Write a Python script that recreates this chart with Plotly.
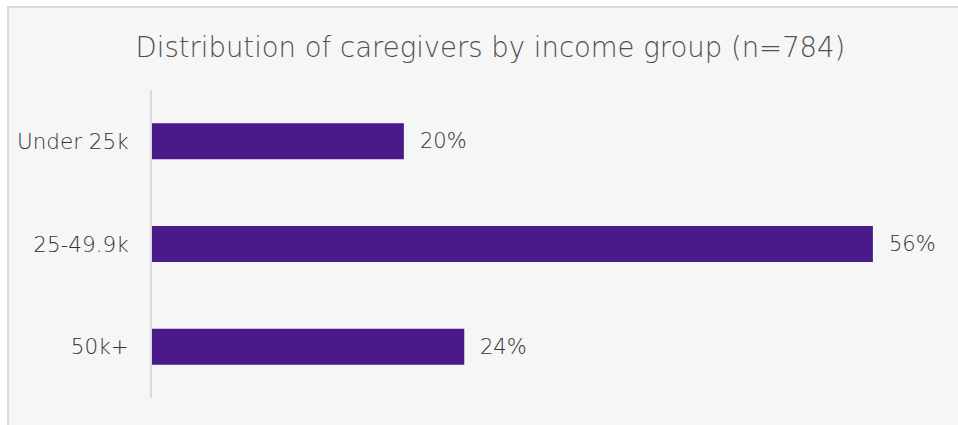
import plotly.graph_objects as go

categories = ["Under 25k", "25-49.9k", "50k+"]
shares = [0.196, 0.561, 0.243]
title_text = "Distribution of caregivers by income group (n=784)"

W, H = 958, 425
ML, MR, MT, MB = 152, 35, 90, 27
PW, PH = W - ML - MR, H - MT - MB


def px_x(p):
    return (p - ML) / PW


def px_y(p):
    return (H - MB - p) / PH


FONT = "'DejaVu Sans', sans-serif"
BAR = "#4a1a8a"
TXT = "#404040"

fig = go.Figure(
    go.Bar(
        x=shares,
        y=categories,
        orientation="h",
        marker=dict(color=BAR, line=dict(width=0)),
        width=0.35,
        hoverinfo="skip",
    )
)

for c, v in zip(categories, shares):
    fig.add_annotation(
        x=v, y=c, xref="x", yref="y",
        text=f"{v:.0%}", showarrow=False,
        xanchor="left", xshift=14,
        font=dict(family=FONT, size=21, weight=200, color="#333333"),
    )

fig.add_shape(
    type="rect", xref="paper", yref="paper",
    x0=px_x(8), x1=px_x(W + 10), y0=px_y(H + 10), y1=px_y(7),
    fillcolor="#f6f6f6", line=dict(color="#d9d9d9", width=2),
    layer="below",
)

fig.update_layout(
    width=W, height=H,
    margin=dict(l=ML, r=MR, t=MT, b=MB),
    paper_bgcolor="white",
    plot_bgcolor="rgba(0,0,0,0)",
    showlegend=False,
    title=dict(
        text=title_text, x=0.512, xanchor="center",
        y=1 - 47 / H, yanchor="middle", yref="container",
        font=dict(family=FONT, size=27.5, weight=200, color="#505050"),
    ),
    xaxis=dict(range=[0, 0.6], visible=False, fixedrange=True),
    yaxis=dict(
        autorange="reversed",
        showline=True, linecolor="#d9d9d9", linewidth=2,
        showgrid=False, zeroline=False,
        ticks="outside", ticklen=17, tickcolor="rgba(0,0,0,0)",
        tickfont=dict(family=FONT, size=21.5, weight=200, color="#333333"),
        fixedrange=True,
    ),
)

fig.write_html("out.html")
